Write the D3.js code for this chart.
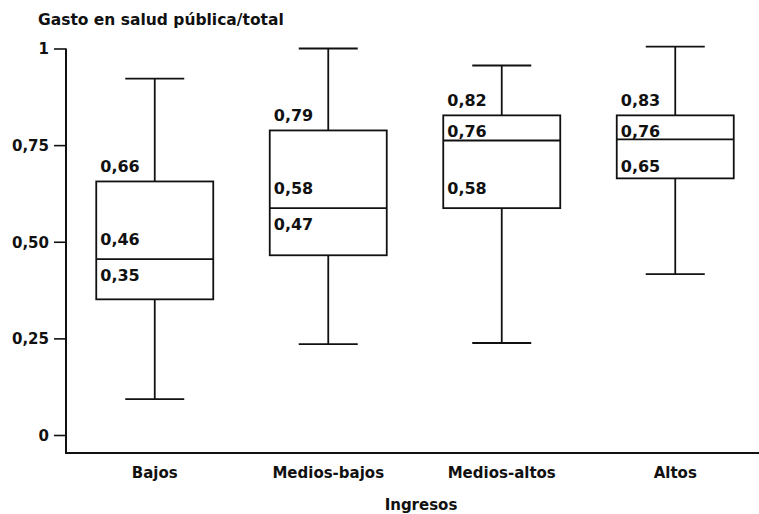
<!DOCTYPE html>
<html>
<head>
<meta charset="utf-8">
<script src="https://cdn.jsdelivr.net/npm/d3@7"></script>
<style>
  body { margin: 0; background: #fff; }
  svg text { font-family: "DejaVu Sans", sans-serif; font-weight: bold; fill: #111; }
</style>
</head>
<body>
<svg id="chart" width="759" height="514"></svg>
<script>
// ---- Data ----
const categories = ["Bajos", "Medios-bajos", "Medios-altos", "Altos"];
const whiskerLow  = [0.093, 0.235, 0.238, 0.416];
const q1          = [0.351, 0.465, 0.587, 0.664];
const median      = [0.455, 0.587, 0.762, 0.765];
const q3          = [0.656, 0.788, 0.827, 0.827];
const whiskerHigh = [0.922, 1.000, 0.956, 1.005];
// value labels: [text, anchor line, side]
const boxLabels = [
  [["0,66", "q3", "out"], ["0,46", "med", "above"], ["0,35", "med", "below"]],
  [["0,79", "q3", "out"], ["0,58", "med", "above"], ["0,47", "med", "below"]],
  [["0,82", "q3", "out"], ["0,76", "q3", "below"], ["0,58", "q1", "above"]],
  [["0,83", "q3", "out"], ["0,76", "q3", "below"], ["0,65", "q1", "tight"]]
];
const yTicks = [0, 0.25, 0.5, 0.75, 1];
const yTickLabels = ["0", "0,25", "0,50", "0,75", "1"];
const yTitle = "Gasto en salud pública/total";
const xTitle = "Ingresos";

// ---- Layout ----
const svg = d3.select("#chart");
const axisX = 66, axisY = 453;
const y = d3.scaleLinear().domain([0, 1]).range([435, 48.5]);
const x = d3.scalePoint().domain(categories).range([68, 762]).padding(0.5);
const boxW = 117, capW = 59;
const stroke = "#111", sw = 1.8;

// y axis
const yAxis = d3.axisLeft(y).tickValues(yTicks)
  .tickFormat((d, i) => yTickLabels[i]).tickSize(12).tickSizeOuter(0).tickPadding(5);
const gy = svg.append("g").attr("transform", `translate(${axisX},0)`).call(yAxis);
gy.select(".domain").remove();
gy.selectAll(".tick line").attr("stroke", stroke).attr("stroke-width", 1.6);
gy.selectAll(".tick text").attr("font-size", 15).attr("font-family", "DejaVu Sans")
  .attr("font-weight", "bold").attr("fill", "#111").attr("dy", "0.36em");

// axis lines
svg.append("line").attr("x1", axisX).attr("x2", axisX).attr("y1", y(1)).attr("y2", axisY)
  .attr("stroke", stroke).attr("stroke-width", 2);
svg.append("line").attr("x1", axisX - 1).attr("x2", 759).attr("y1", axisY).attr("y2", axisY)
  .attr("stroke", stroke).attr("stroke-width", 2);

// boxes
const data = categories.map((c, i) => ({
  c, lo: whiskerLow[i], q1: q1[i], med: median[i], q3: q3[i], hi: whiskerHigh[i], labels: boxLabels[i]
}));
const g = svg.selectAll(".box").data(data).join("g").attr("class", "box");

g.append("line").attr("x1", d => x(d.c)).attr("x2", d => x(d.c))
  .attr("y1", d => y(d.hi)).attr("y2", d => y(d.q3)).attr("stroke", stroke).attr("stroke-width", sw);
g.append("line").attr("x1", d => x(d.c)).attr("x2", d => x(d.c))
  .attr("y1", d => y(d.q1)).attr("y2", d => y(d.lo)).attr("stroke", stroke).attr("stroke-width", sw);
g.append("line").attr("x1", d => x(d.c) - capW / 2).attr("x2", d => x(d.c) + capW / 2)
  .attr("y1", d => y(d.hi)).attr("y2", d => y(d.hi)).attr("stroke", stroke).attr("stroke-width", sw);
g.append("line").attr("x1", d => x(d.c) - capW / 2).attr("x2", d => x(d.c) + capW / 2)
  .attr("y1", d => y(d.lo)).attr("y2", d => y(d.lo)).attr("stroke", stroke).attr("stroke-width", sw);
g.append("rect").attr("x", d => x(d.c) - boxW / 2).attr("width", boxW)
  .attr("y", d => y(d.q3)).attr("height", d => y(d.q1) - y(d.q3))
  .attr("fill", "none").attr("stroke", stroke).attr("stroke-width", sw);
g.append("line").attr("x1", d => x(d.c) - boxW / 2).attr("x2", d => x(d.c) + boxW / 2)
  .attr("y1", d => y(d.med)).attr("y2", d => y(d.med)).attr("stroke", stroke).attr("stroke-width", sw);

// value labels
const sideOffset = { out: -9, above: -14, tight: -6, below: 22 };
g.each(function(d) {
  const sel = d3.select(this);
  d.labels.forEach(([t, a, side]) => {
    const v = a === "q3" ? d.q3 : a === "med" ? d.med : d.q1;
    sel.append("text").attr("x", x(d.c) - boxW / 2 + 4).attr("y", y(v) + sideOffset[side])
      .attr("font-size", 16).text(t);
  });
});

// category labels
svg.selectAll(".cat").data(categories).join("text").attr("class", "cat")
  .attr("x", d => x(d)).attr("y", 478).attr("text-anchor", "middle").attr("font-size", 15).text(d => d);

// titles
svg.append("text").attr("x", 38).attr("y", 25).attr("font-size", 15.5).text(yTitle);
svg.append("text").attr("x", 421).attr("y", 510).attr("text-anchor", "middle").attr("font-size", 15).text(xTitle);
</script>
</body>
</html>
